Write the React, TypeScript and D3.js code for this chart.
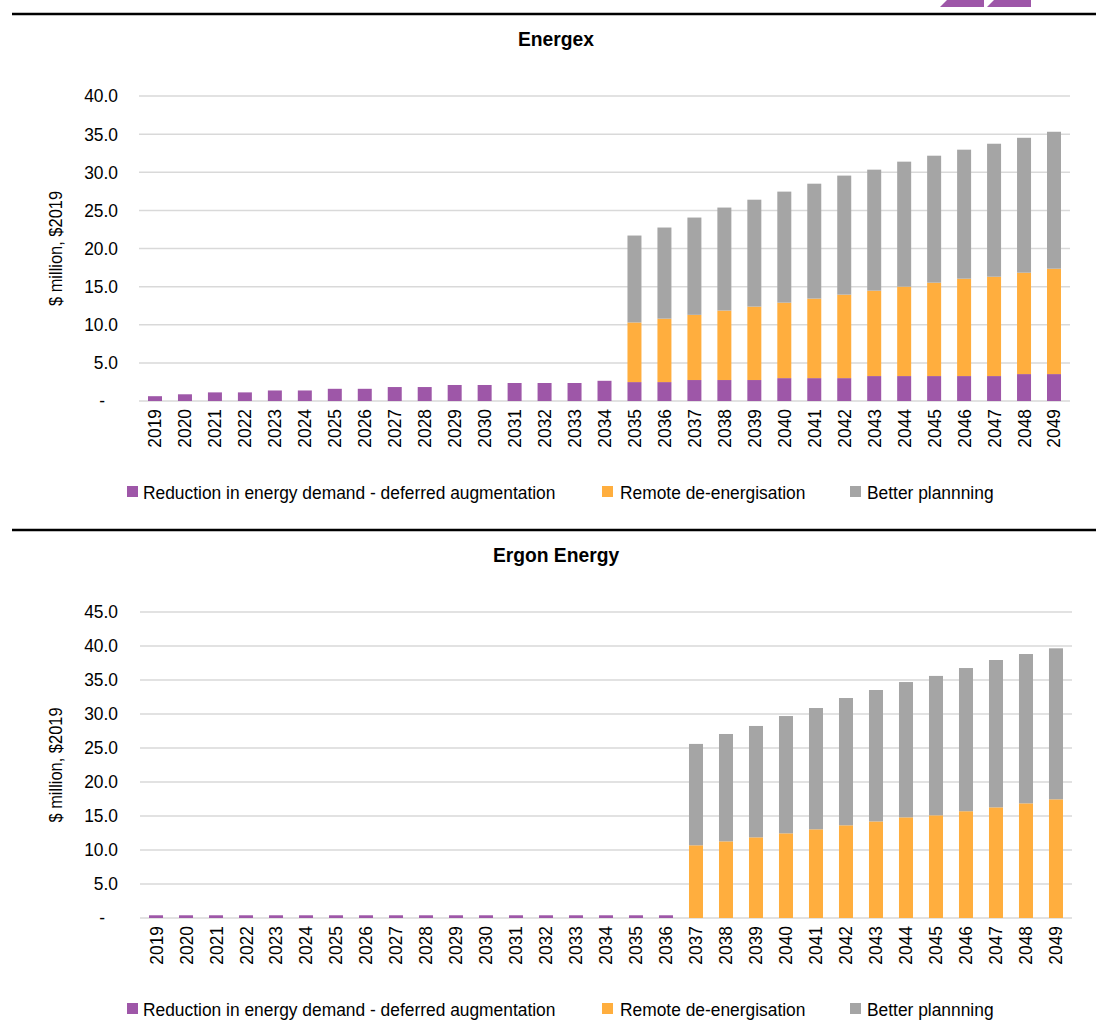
import React from "react";
import * as d3 from "d3";

const years: string[] = d3.range(2019, 2050).map(String);

const seriesNames = [
  "Reduction in energy demand - deferred augmentation",
  "Remote de-energisation",
  "Better plannning",
];
const colors = ["#9E57A8", "#FFAE3E", "#A5A5A5"];

// Energex
const energexDemand = [0.63, 0.88, 1.13, 1.13, 1.38, 1.38, 1.6, 1.6, 1.83, 1.83, 2.1, 2.1, 2.36, 2.36, 2.36, 2.65, 2.48, 2.48, 2.75, 2.75, 2.75, 3.0, 3.0, 3.0, 3.27, 3.27, 3.27, 3.27, 3.27, 3.53, 3.53];
const energexRemote = [0, 0, 0, 0, 0, 0, 0, 0, 0, 0, 0, 0, 0, 0, 0, 0, 7.82, 8.32, 8.55, 9.11, 9.63, 9.9, 10.43, 10.95, 11.2, 11.73, 12.25, 12.77, 13.03, 13.3, 13.82];
const energexPlanning = [0, 0, 0, 0, 0, 0, 0, 0, 0, 0, 0, 0, 0, 0, 0, 0, 11.4, 11.95, 12.76, 13.51, 14.02, 14.56, 15.07, 15.61, 15.87, 16.39, 16.65, 16.92, 17.44, 17.69, 17.96];
const energexTicks = [0, 5, 10, 15, 20, 25, 30, 35, 40];

// Ergon Energy
const ergonDemand = [0.4, 0.4, 0.4, 0.4, 0.4, 0.4, 0.4, 0.4, 0.4, 0.4, 0.4, 0.4, 0.4, 0.4, 0.4, 0.4, 0.4, 0.4, 0, 0, 0, 0, 0, 0, 0, 0, 0, 0, 0, 0, 0];
const ergonRemote = [0, 0, 0, 0, 0, 0, 0, 0, 0, 0, 0, 0, 0, 0, 0, 0, 0, 0, 10.69, 11.27, 11.86, 12.45, 13.04, 13.63, 14.2, 14.8, 15.1, 15.7, 16.27, 16.86, 17.45];
const ergonPlanning = [0, 0, 0, 0, 0, 0, 0, 0, 0, 0, 0, 0, 0, 0, 0, 0, 0, 0, 14.91, 15.79, 16.38, 17.25, 17.84, 18.72, 19.33, 19.9, 20.5, 21.06, 21.67, 21.96, 22.21];
const ergonTicks = [0, 5, 10, 15, 20, 25, 30, 35, 40, 45];

const FONT = "'Liberation Sans', Arial, sans-serif";
const SX = 0.94;

function T(props: {
  x: number; y: number; text: string; size?: number; anchor?: string;
  bold?: boolean; rotate?: number; dy?: string;
}) {
  const { x, y, text, size = 18.5, anchor = "start", bold = false, rotate = 0, dy } = props;
  return (
    <text
      transform={`translate(${x},${y}) rotate(${rotate}) scale(${SX},1)`}
      fontFamily={FONT}
      fontSize={size}
      fontWeight={bold ? "bold" : "normal"}
      textAnchor={anchor}
      dy={dy}
      fill="#000"
    >
      {text}
    </text>
  );
}

type ChartProps = {
  title: string;
  lineY: number;
  top: number;
  bottom: number;
  left: number;
  right: number;
  yMax: number;
  ticks: number[];
  demand: number[];
  remote: number[];
  planning: number[];
};

function Chart(p: ChartProps) {
  const data = years.map((y, i) => ({
    year: y,
    a: p.demand[i],
    b: p.remote[i],
    c: p.planning[i],
  }));
  const stack = d3.stack<any>().keys(["a", "b", "c"]);
  const layers = stack(data);
  const x = d3
    .scaleBand<string>()
    .domain(years)
    .range([p.left, p.right])
    .paddingInner(0.533)
    .paddingOuter(0.267);
  const y = d3.scaleLinear().domain([0, p.yMax]).range([p.bottom, p.top]);
  const legendY = p.bottom + 91;
  const legendX = [127, 602, 850];
  const legendTX = [143, 620, 867];

  return (
    <g>
      <line x1={12} x2={1096} y1={p.lineY} y2={p.lineY} stroke="#000" strokeWidth={2.4} />
      <T x={556} y={p.lineY + 32} text={p.title} size={20.5} bold anchor="middle" />
      {p.ticks.map((t) => (
        <line key={"g" + t} x1={p.left - 1} x2={p.right + 1} y1={y(t)} y2={y(t)} stroke="#D9D9D9" strokeWidth={1.5} />
      ))}
      {p.ticks.map((t) =>
        t === 0 ? (
          <T key={"t" + t} x={105} y={y(t)} text="-" anchor="end" dy="0.35em" />
        ) : (
          <T key={"t" + t} x={118} y={y(t)} text={d3.format(".1f")(t)} anchor="end" dy="0.35em" />
        )
      )}
      <T
        x={62}
        y={(p.top + p.bottom) / 2}
        text="$ million, $2019"
        size={17.5}
        anchor="middle"
        rotate={-90}
      />
      {layers.map((layer, li) =>
        layer.map((d, i) => {
          const h = y(d[0]) - y(d[1]);
          if (h <= 0) return null;
          return (
            <rect
              key={li + "-" + i}
              x={x(years[i])!}
              width={x.bandwidth()}
              y={y(d[1])}
              height={h}
              fill={colors[li]}
            />
          );
        })
      )}
      {years.map((yr) => (
        <T
          key={"x" + yr}
          x={x(yr)! + x.bandwidth() / 2}
          y={p.bottom + 8}
          text={yr}
          anchor="end"
          rotate={-90}
          dy="0.35em"
        />
      ))}
      {seriesNames.map((s, i) => (
        <g key={"l" + i}>
          <rect x={legendX[i]} y={legendY - 6} width={11} height={11} fill={colors[i]} />
          <T x={legendTX[i]} y={legendY + 6.5} text={s} />
        </g>
      ))}
    </g>
  );
}

export default function App() {
  return (
    <svg
      width={1096}
      height={1035}
      style={{ position: "absolute", left: 0, top: 0, background: "#fff" }}
    >
      <rect x={0} y={0} width={1096} height={1035} fill="#fff" />
      <polygon points="940,7 947,0 984,0 984,7" fill="#9E57A8" />
      <polygon points="987,7 994,0 1031,0 1031,7" fill="#9E57A8" />
      <Chart
        title="Energex"
        lineY={14}
        top={96}
        bottom={401}
        left={140}
        right={1069}
        yMax={40}
        ticks={energexTicks}
        demand={energexDemand}
        remote={energexRemote}
        planning={energexPlanning}
      />
      <Chart
        title="Ergon Energy"
        lineY={530}
        top={612}
        bottom={918}
        left={141}
        right={1071}
        yMax={45}
        ticks={ergonTicks}
        demand={ergonDemand}
        remote={ergonRemote}
        planning={ergonPlanning}
      />
    </svg>
  );
}
